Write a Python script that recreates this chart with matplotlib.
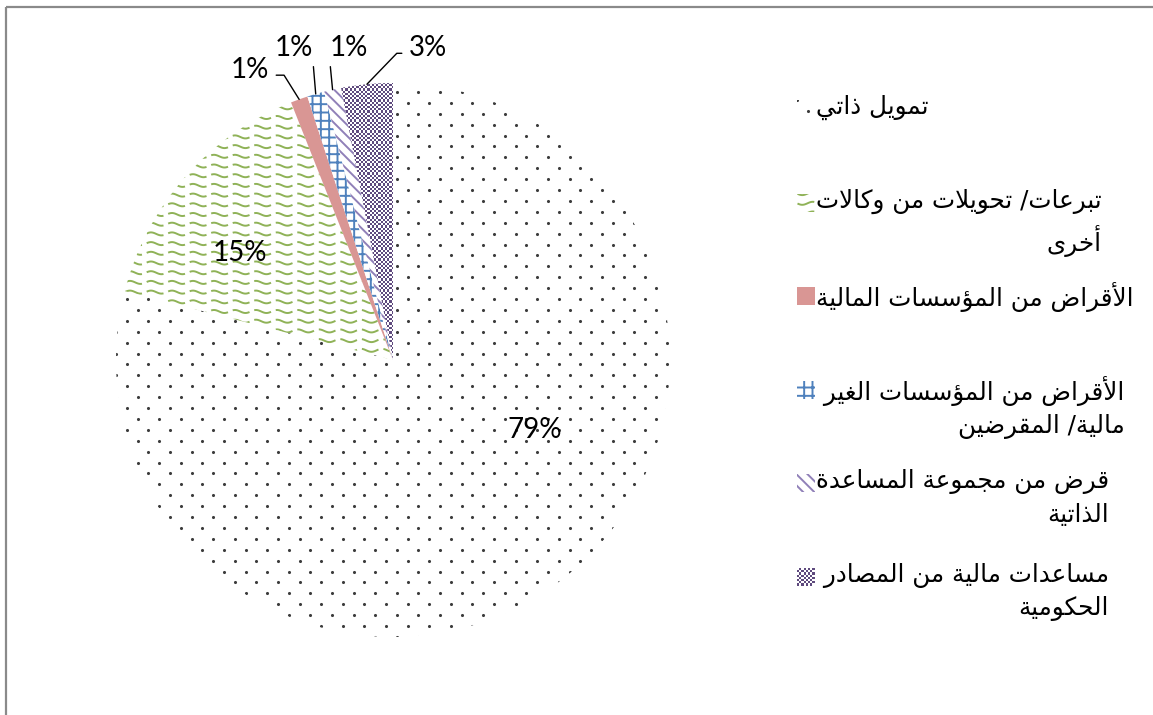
import matplotlib
matplotlib.use('Agg')
import matplotlib.pyplot as plt
import numpy as np
from matplotlib.collections import LineCollection
from matplotlib.colors import ListedColormap
from matplotlib.patches import Rectangle

# data
categories = [
    'تمويل ذاتي',
    'تبرعات/ تحويلات من وكالات\nأخرى',
    'الأقراض من المؤسسات المالية',
    'الأقراض من المؤسسات الغير \nمالية/ المقرضين',
    'قرض من مجموعة المساعدة\nالذاتية',
    'مساعدات مالية من المصادر \nالحكومية',
]
values = [79, 15, 1, 1, 1, 3]
pct_labels = [f'{v}%' for v in values]
patterns = ['dots', 'wave', 'solid', 'grid', 'diag', 'checker']

# label placement in pie units (radius = 1)
label_pos = [(0.513, -0.253), (-0.552, 0.386), (-0.516, 1.047),
             (-0.343, 1.126), (-0.173, 1.126), (0.126, 1.126)]

W, H = 1153, 715
R, CX, CY = 277, 393, 360

# --- minimal arabic shaping (presentation forms, visual order) ---
DUAL = {'ب': 0xFE8F, 'ت': 0xFE95, 'ج': 0xFE9D, 'ح': 0xFEA1, 'خ': 0xFEA5,
        'س': 0xFEB1, 'ص': 0xFEB9, 'ض': 0xFEBD, 'ع': 0xFEC9, 'غ': 0xFECD,
        'ق': 0xFED5, 'ك': 0xFED9, 'ل': 0xFEDD, 'م': 0xFEE1, 'ن': 0xFEE5,
        'ه': 0xFEE9, 'ي': 0xFEF1}
RIGHT = {'ا': 0xFE8D, 'أ': 0xFE83, 'ؤ': 0xFE85, 'ة': 0xFE93, 'د': 0xFEA9,
         'ذ': 0xFEAB, 'ر': 0xFEAD, 'و': 0xFEED, 'ى': 0xFEEF}
LAM_ALEF = {'ا': 0xFEFB, 'أ': 0xFEF7}


def shape_line(line):
    out = []
    i = 0
    n = len(line)
    while i < n:
        c = line[i]
        jp = i > 0 and line[i - 1] in DUAL
        if c == 'ل' and i + 1 < n and line[i + 1] in LAM_ALEF:
            out.append(chr(LAM_ALEF[line[i + 1]] + (1 if jp else 0)))
            i += 2
            continue
        nxt = line[i + 1] if i + 1 < n else ''
        if c in DUAL:
            jn = nxt in DUAL or nxt in RIGHT
            form = 3 if (jp and jn) else 1 if jp else 2 if jn else 0
            out.append(chr(DUAL[c] + form))
        elif c in RIGHT:
            out.append(chr(RIGHT[c] + (1 if jp else 0)))
        else:
            out.append(c)
        i += 1
    return ''.join(reversed(out))


def shape(text):
    return '\n'.join(shape_line(s) for s in text.split('\n'))


def bbox_of(ax, patch):
    return patch.get_extents().transformed(ax.transData.inverted())


# --- pattern fills ---
def fill_pattern(ax, patch, kind, px):
    patch.set_linewidth(0)
    patch.set_facecolor('white')
    patch.set_edgecolor('white')
    if kind == 'dots':
        bb = bbox_of(ax, patch)
        dx, dy = 21.6 * px, 10.9 * px
        pts = []
        for k, yr in enumerate(np.arange(bb.ymin, bb.ymax + dy, dy)):
            xs = np.arange(bb.xmin + (k % 2) * dx / 2, bb.xmax + dx, dx)
            pts.extend((x, yr) for x in xs)
        pts = np.array(pts)
        sc = ax.scatter(pts[:, 0], pts[:, 1], s=5, c='#3c3c3c',
                        linewidths=0, zorder=3)
        sc.set_clip_path(patch)
    elif kind == 'solid':
        patch.set_facecolor('#D99694')
        patch.set_edgecolor('#D99694')
    elif kind == 'grid':
        patch.set_edgecolor('#4F81BD')
        patch.set_hatch('++')
    elif kind == 'diag':
        patch.set_edgecolor('#9080B8')
        patch.set_hatch('\\\\\\')
    elif kind == 'wave':
        bb = bbox_of(ax, patch)
        x0, x1 = bb.xmin, bb.xmax
        xs = np.arange(x0 - 21 * px, x1 + 21 * px, 0.5 * px)
        segs = []
        for yr in np.arange(bb.ymin, bb.ymax + 10 * px, 9.7 * px):
            ys = yr + 1.5 * px * np.sin(2 * np.pi * (xs - x0) / (21 * px))
            segs.append(np.column_stack([xs, ys]))
        lc = LineCollection(segs, colors='#8FB257', linewidths=1.4,
                            linestyles=[(0, (9.0, 2.6))], zorder=3)
        ax.add_collection(lc, autolim=False)
        lc.set_clip_path(patch)
    elif kind == 'checker':
        bb = bbox_of(ax, patch)
        cell = 2.2 * px
        nx = int((bb.xmax - bb.xmin) / cell) + 2
        ny = int((bb.ymax - bb.ymin) / cell) + 2
        arr = (np.add.outer(np.arange(ny), np.arange(nx)) % 2)
        im = ax.imshow(arr, cmap=ListedColormap(['#5F4A7E', 'white']),
                       extent=(bb.xmin, bb.xmin + nx * cell,
                               bb.ymin, bb.ymin + ny * cell),
                       interpolation='nearest', zorder=3, aspect='auto')
        im.set_clip_path(patch)


plt.rcParams['hatch.linewidth'] = 1.4
fig = plt.figure(figsize=(W / 100, H / 100), dpi=100)

# overlay axes in pixel coordinates (frame and legend)
lay = fig.add_axes([0, 0, 1, 1])
lay.set_xlim(0, W)
lay.set_ylim(H, 0)
lay.axis('off')
lay.add_patch(Rectangle((6, 7), W + 20, H + 20, fill=False,
                        edgecolor='#8a8a8a', linewidth=1.6, clip_on=False))

# pie axes
ax = fig.add_axes([(CX - R) / W, (H - CY - R) / H, 2 * R / W, 2 * R / H])
wedges, _ = ax.pie(values, startangle=90, counterclock=False, radius=1,
                   wedgeprops={'linewidth': 0})
ax.set_xlim(-1, 1)
ax.set_ylim(-1, 1)
ax.axis('off')
for w, kind in zip(wedges, patterns):
    fill_pattern(ax, w, kind, 1.0 / R)
ax.set_xlim(-1, 1)
ax.set_ylim(-1, 1)

# percent labels
num_font = dict(family='Lato', fontsize=20, color='black', zorder=5)
for i, (w, lab, pos) in enumerate(zip(wedges, pct_labels, label_pos)):
    mid = np.deg2rad((w.theta1 + w.theta2) / 2)
    tip = (np.cos(mid), np.sin(mid))
    if i < 2:
        ax.text(pos[0], pos[1], lab, ha='center', va='center', **num_font)
    elif i == 2:
        ax.annotate(lab, xy=tip, xytext=pos, ha='center', va='center',
                    arrowprops=dict(arrowstyle='-', color='black', lw=1,
                                    shrinkA=3, shrinkB=0, relpos=(1.0, 0.3),
                                    connectionstyle='angle,angleA=0,angleB=122,rad=0'),
                    **num_font)
    elif i == 3:
        ax.annotate(lab, xy=tip, xytext=(tip[0] - 0.01, pos[1]), ha='right', va='center',
                    arrowprops=dict(arrowstyle='-', color='black', lw=1,
                                    shrinkA=2, shrinkB=0, relpos=(1.0, 0.0)),
                    **num_font)
    elif i == 4:
        ax.annotate(lab, xy=tip, xytext=(tip[0] - 0.01, pos[1]), ha='left', va='center',
                    arrowprops=dict(arrowstyle='-', color='black', lw=1,
                                    shrinkA=2, shrinkB=0, relpos=(0.0, 0.0)),
                    **num_font)
    else:
        ax.annotate(lab, xy=tip, xytext=pos, ha='center', va='center',
                    arrowprops=dict(arrowstyle='-', color='black', lw=1,
                                    shrinkA=3, shrinkB=0, relpos=(0.0, 0.3),
                                    connectionstyle='angle,angleA=180,angleB=46,rad=0'),
                    **num_font)

# legend (right side, RTL text)
leg_x, leg_y0, leg_dy, box = 797, 109, 93.6, 18
for i, (cat, kind) in enumerate(zip(categories, patterns)):
    yc = leg_y0 + i * leg_dy
    r = Rectangle((leg_x, yc - box / 2), box, box)
    lay.add_patch(r)
    fill_pattern(lay, r, kind, 1.0)
    lay.text(leg_x + box + 1, yc - 14, shape(cat), ha='left', va='top',
             multialignment='right', family='DejaVu Sans', fontsize=17.7,
             linespacing=1.44, color='black')
lay.set_xlim(0, W)
lay.set_ylim(H, 0)

fig.savefig('out.png', dpi=100)
